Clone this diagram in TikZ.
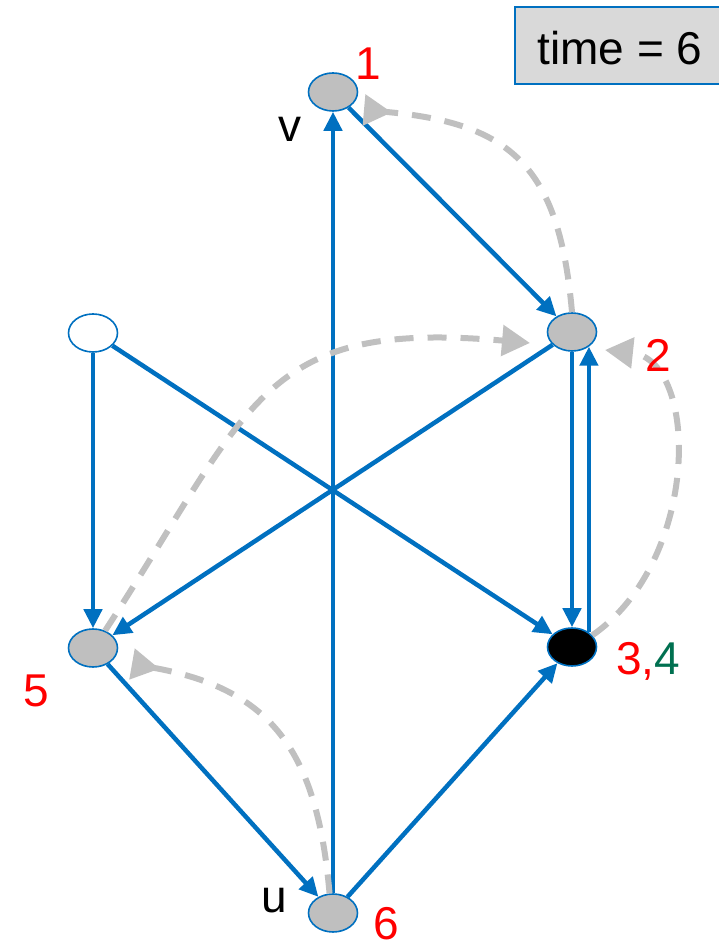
\documentclass[tikz,border=0pt]{standalone}
\usepackage{fontspec}
\setmainfont{Liberation Sans}
\usetikzlibrary{arrows.meta, shapes.geometric}

\definecolor{edgeblue}{RGB}{0,112,192}
\definecolor{visitgray}{RGB}{191,191,191}
\definecolor{backgray}{RGB}{192,192,192}
\definecolor{boxgray}{RGB}{217,217,217}
\definecolor{lowgreen}{RGB}{0,112,80}

\begin{document}
\begin{tikzpicture}[x=1pt, y=1pt,
    vert/.style={ellipse, draw=edgeblue, line width=1.6pt, minimum width=49pt, minimum height=38pt, inner sep=0pt},
    tree/.style={edgeblue, line width=4.5pt, -{Triangle[length=19pt, width=18pt]}},
    back/.style={backgray, line width=6pt, dash pattern=on 19pt off 14pt, -{Triangle[length=28pt, width=30pt]}},
    backrev/.style={back, -{Triangle[reversed, length=28pt, width=30pt]}},
    lbl/.style={font=\fontsize{46}{50}\selectfont, anchor=base, inner sep=0pt}]

    % === Page ===
    \useasboundingbox (0,0) rectangle (719,950);

    % === Time box ===
    \node[draw=edgeblue, fill=boxgray, line width=1.6pt, minimum width=210pt, minimum height=77pt,
        text height=39pt, text depth=0pt, inner sep=0pt, font=\fontsize{46}{50}\selectfont] (clock) at (620,904.5) {time = 6};

    % === Vertices ===
    \node[vert, fill=visitgray] (v) at (333,858) {};
    \node[vert, fill=visitgray] (n2) at (572,618) {};
    \node[vert, fill=white] (w) at (93,617) {};
    \node[vert, fill=visitgray] (n5) at (93,302) {};
    \node[vert, fill=black] (n34) at (572,303) {};
    \node[vert, fill=visitgray] (u) at (333,37) {};

    % === Graph edges ===
    \draw[tree] (u) -- (v);
    \draw[tree] (v) -- (n2);
    \draw[tree] (w) -- (n5);
    \draw[tree] (w) -- (n34);
    \draw[tree] (n2) -- (n5);
    \draw[tree] (n5) -- (u);
    \draw[tree] (u) -- (n34);
    \draw[tree] (n2) -- (n34);
    \draw[tree] (n34.41) -- (n2.-41);

    % === Dashed arcs ===
    \draw[backrev] (n2.north) to[out=95, in=-5, looseness=1.3] ([shift={(31pt,-18pt)}]v.center);
    \draw[back] (n5.55) to[out=57, in=175, looseness=1.35] ([shift={(-42pt,-11pt)}]n2.center);
    \draw[back] (n34.30) .. controls +(108,75) and +(95,-10) .. ([shift={(33pt,-18pt)}]n2.center);
    \draw[backrev] (u.100) to[out=95, in=-10, looseness=1.2] ([shift={(39pt,-16pt)}]n5.center);

    % === Labels ===
    \node[lbl, text=red] (l1) at (368,870) {1};
    \node[lbl] (lv) at (290,808) {v};
    \node[lbl, text=red] (l2) at (658,578) {2};
    \node[lbl] (l34) at (648,275) {\textcolor{red}{3,}\textcolor{lowgreen}{4}};
    \node[lbl, text=red] (l5) at (36,243) {5};
    \node[lbl] (lu) at (274,37) {u};
    \node[lbl, text=red] (l6) at (386,10) {6};

\end{tikzpicture}
\end{document}
